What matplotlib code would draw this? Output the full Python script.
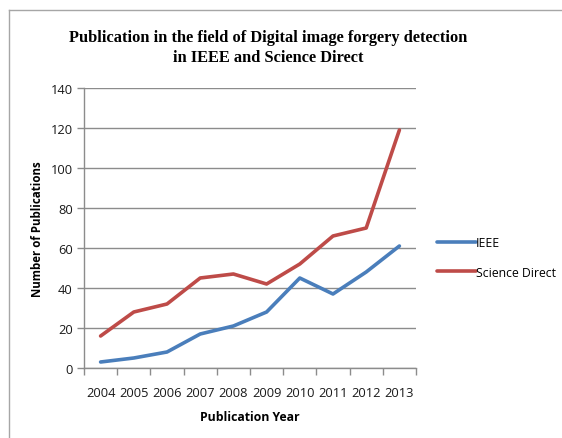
import matplotlib.pyplot as plt
from matplotlib.lines import Line2D

# --- data --------------------------------------------------------------------
years = ["2004", "2005", "2006", "2007", "2008", "2009", "2010", "2011", "2012", "2013"]
ieee = [3, 5, 8, 17, 21, 28, 45, 37, 48, 61]
science_direct = [16, 28, 32, 45, 47, 42, 52, 66, 70, 119]
y_ticks = [0, 20, 40, 60, 80, 100, 120, 140]

W, H = 562, 439
fig = plt.figure(figsize=(W / 100, H / 100), dpi=100)
fig.patch.set_facecolor("white")

# gray frame around the chart (top/left edges visible in the crop)
fig.add_artist(Line2D([9 / W, 9 / W], [0, 1 - 11 / H], transform=fig.transFigure,
                      color="#a6a6a6", lw=1.0))
fig.add_artist(Line2D([9 / W, 1], [1 - 11 / H, 1 - 11 / H], transform=fig.transFigure,
                      color="#a6a6a6", lw=1.0))

ax = fig.add_axes([84 / W, 1 - 369 / H, (416 - 84) / W, (369 - 89) / H])

x = list(range(len(years)))
ax.plot(x, ieee, color="#4a7ebb", lw=2.6, solid_capstyle="round", label="IEEE", zorder=3)
ax.plot(x, science_direct, color="#be4b48", lw=2.6, solid_capstyle="round",
        label="Science Direct", zorder=3)

ax.set_xlim(-0.5, len(years) - 0.5)
ax.set_ylim(0, 140)

ax.set_yticks(y_ticks)
ax.set_yticklabels([str(v) for v in y_ticks])
ax.yaxis.grid(True, color="#8c8c8c", lw=1.0)
ax.set_axisbelow(True)

# category axis: tick marks on the boundaries, labels centred
ax.set_xticks(x)
ax.set_xticklabels(years)
ax.set_xticks([i - 0.5 for i in range(len(years) + 1)], minor=True)
ax.tick_params(axis="x", which="major", length=0, pad=13)
ax.tick_params(axis="x", which="minor", length=5, color="#8c8c8c", width=1.0)
ax.tick_params(axis="y", length=5, color="#8c8c8c", width=1.0, pad=3)
ax.tick_params(labelsize=9.3, labelcolor="#1a1a1a")
for lab in ax.get_xticklabels() + ax.get_yticklabels():
    lab.set_family("Open Sans")

for side in ("top", "right"):
    ax.spines[side].set_visible(False)
for side in ("left", "bottom"):
    ax.spines[side].set_color("#8c8c8c")
    ax.spines[side].set_linewidth(1.0)

ax.set_xlabel("Publication Year", fontsize=8.8, fontweight="bold", family="Open Sans",
              labelpad=8)
fig.text(38 / W, 1 - 229 / H, "Number of Publications", rotation=90, ha="center",
         va="center", fontsize=8.3, fontweight="bold", family="Open Sans")

fig.text(268 / W, 1 - 48 / H,
         "Publication in the field of Digital image forgery detection\nin IEEE and Science Direct",
         ha="center", va="center", fontsize=11.8, fontweight="bold",
         family="Liberation Serif", linespacing=1.4)

leg = ax.legend(loc="center left", bbox_to_anchor=(1.03, 0.395), frameon=False,
                handlelength=3.2, handletextpad=0.0, labelspacing=1.35,
                prop={"family": "Open Sans", "size": 8.8})

fig.savefig("out.png", dpi=100)
